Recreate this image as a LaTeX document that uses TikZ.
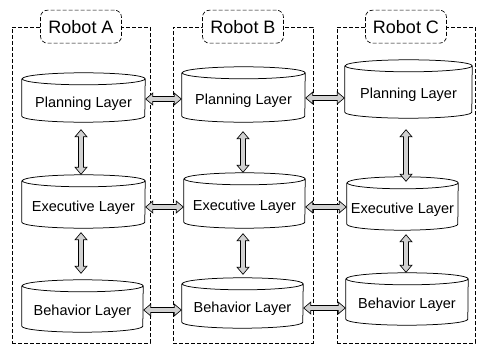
\documentclass[tikz,border=0pt]{standalone}
\usepackage{fontspec}
\setmainfont{Liberation Sans}
\usetikzlibrary{arrows.meta,calc}

\definecolor{arrowgray}{gray}{0.82}

\tikzset{
  robotframe/.style={draw, dash pattern=on 4pt off 2pt, line width=0.65pt,
    minimum height=316pt, inner sep=0pt},
  robottag/.style={draw, fill=white, dash pattern=on 4pt off 2pt, line width=0.65pt,
    rounded corners=7pt, minimum width=81pt, minimum height=33pt, inner sep=0pt,
    font=\fontsize{18}{20}\selectfont},
  layertext/.style={inner sep=0pt, font=\fontsize{14.5}{17}\selectfont},
  drumline/.style={draw, line width=0.75pt},
  link/.style={line width=6.5pt, draw=black,
    {Triangle[length=8pt,width=13.5pt,line width=0pt]}-{Triangle[length=8pt,width=13.5pt,line width=0pt]},
    postaction={draw=arrowgray, line width=4.9pt, shorten <=1.25pt, shorten >=1.25pt,
      {Triangle[length=5.95pt,width=10pt,line width=0pt]}-{Triangle[length=5.95pt,width=10pt,line width=0pt]}}}
}

% layer drum: name, x, y, width, height, text
\newcommand\layerdrum[6]{%
  \node[layertext, minimum width=#4pt, minimum height=#5pt] (#1) at (#2,#3) {#6};
  \draw[drumline] ([yshift=6pt]#1.north west) -- ([yshift=6pt]#1.south west)
    arc[start angle=180, end angle=360, x radius=#4pt/2, y radius=6pt]
    -- ([yshift=6pt]#1.north east)
    arc[start angle=0, end angle=360, x radius=#4pt/2, y radius=6pt];}

\begin{document}
\begin{tikzpicture}[x=1pt, y=-1pt]
\useasboundingbox (0,0) rectangle (477,345);

% robot frames
\node[robotframe, minimum width=138pt] (ra) at (81,185) {};
\node[robotframe, minimum width=140pt] (rb) at (243,185) {};
\node[robotframe, minimum width=138pt] (rc) at (406,185) {};

\node[robottag] (ta) at (ra.north) {Robot A};
\node[robottag] (tb) at (rb.north) {Robot B};
\node[robottag] (tc) at (rc.north) {Robot C};

% layers
\layerdrum{pa}{83.5}{103.5}{123}{37}{Planning Layer}
\layerdrum{pb}{243.5}{100.5}{123}{43}{Planning Layer}
\layerdrum{pc}{408.5}{95}{127}{46}{Planning Layer}
\layerdrum{ea}{83.5}{207.5}{123}{41}{Executive Layer}
\layerdrum{eb}{244.5}{206.5}{121}{43}{Executive Layer}
\layerdrum{ec}{402.5}{209.5}{111}{41}{Executive Layer}
\layerdrum{ba}{82.5}{312}{121}{40}{Behavior Layer}
\layerdrum{bb}{242.5}{309}{121}{38}{Behavior Layer}
\layerdrum{bc}{407}{305}{122}{40}{Behavior Layer}

% links between robots
\draw[link] (pa.east |- 0,99) -- (pb.west |- 0,99);
\draw[link] (pb.east |- 0,98) -- (pc.west |- 0,98);
\draw[link] (ea.east |- 0,207) -- (eb.west |- 0,207);
\draw[link] (eb.east |- 0,207) -- (ec.west |- 0,207);
\draw[link] (ba.east |- 0,310) -- (bb.west |- 0,310);
\draw[link] (bb.east |- 0,308) -- (bc.west |- 0,308);

% links between layers of one robot
\draw[link] ($(pa.south -| ra.center)+(0,7)$) -- ($(ea.north -| ra.center)+(0,-12)$);
\draw[link] ($(ea.south -| ra.center)+(0,4)$) -- ($(ba.north -| ra.center)+(0,-18)$);
\draw[link] ($(pb.south -| rb.center)+(0,9)$) -- ($(eb.north -| rb.center)+(0,-12)$);
\draw[link] ($(eb.south -| rb.center)+(0,5)$) -- ($(bb.north -| rb.center)+(0,-15)$);
\draw[link] ($(pc.south -| rc.center)+(0,11)$) -- ($(ec.north -| rc.center)+(0,-7)$);
\draw[link] ($(ec.south -| rc.center)+(0,4)$) -- ($(bc.north -| rc.center)+(0,-12)$);
\end{tikzpicture}
\end{document}
